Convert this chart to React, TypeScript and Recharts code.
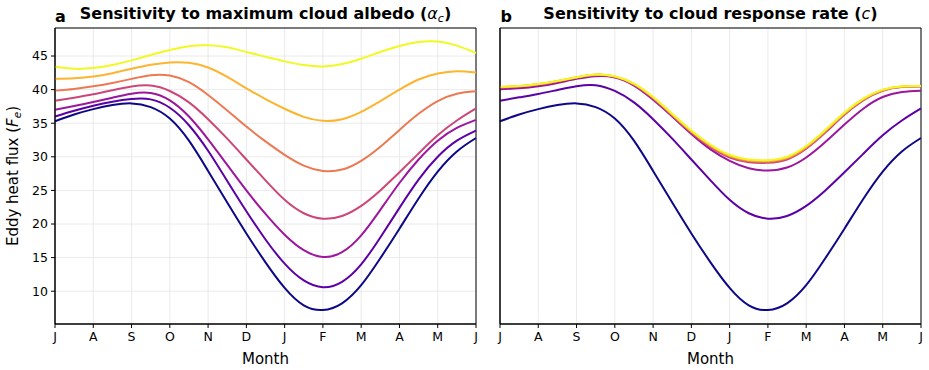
import React from "react";
import { LineChart, Line, XAxis, YAxis, CartesianGrid, ReferenceArea } from "recharts";

// Month positions of the samples (half-month steps, July → June)
const MONTH_POS = [0, 0.5, 1, 1.5, 2, 2.5, 3, 3.5, 4, 4.5, 5, 5.5, 6, 6.5, 7, 7.5, 8, 8.5, 9, 9.5, 10, 10.5, 11];
const MONTH_TICKS = [0, 1, 2, 3, 4, 5, 6, 7, 8, 9, 10, 11];
const MONTH_LABELS = ["J", "A", "S", "O", "N", "D", "J", "F", "M", "A", "M", "J"];
const FLUX_TICKS = [10, 15, 20, 25, 30, 35, 40, 45];
const FLUX_DOMAIN: [number, number] = [5.12, 49.17];

// Panel a: maximum cloud albedo runs (lowest → highest)
const albedo1 = [35.3, 36.3, 37.1, 37.7, 37.95, 37.4, 35.7, 32.4, 27.9, 23.2, 18.6, 14.3, 10.5, 7.9, 7.2, 8.2, 10.9, 14.9, 19.3, 23.8, 27.8, 30.8, 32.8];
const albedo2 = [36.0, 36.85, 37.6, 38.2, 38.6, 38.55, 37.3, 34.7, 30.9, 26.4, 21.9, 17.7, 14.1, 11.6, 10.6, 11.4, 14.0, 18.0, 22.4, 26.6, 30.0, 32.4, 33.9];
const albedo3 = [37.0, 37.55, 38.15, 38.8, 39.4, 39.5, 38.4, 36.0, 32.6, 28.8, 25.0, 21.5, 18.4, 16.1, 15.1, 15.8, 18.3, 22.1, 26.1, 29.6, 32.4, 34.3, 35.5];
const albedo4 = [38.35, 38.8, 39.3, 39.9, 40.45, 40.6, 39.8, 38.1, 35.6, 32.7, 29.6, 26.5, 23.6, 21.6, 20.8, 21.2, 22.7, 25.0, 27.7, 30.5, 33.2, 35.4, 37.2];
const albedo5 = [39.85, 40.1, 40.5, 41.0, 41.6, 42.15, 42.1, 41.1, 39.2, 36.9, 34.5, 32.3, 30.3, 28.7, 27.9, 28.1, 29.4, 31.5, 34.0, 36.4, 38.3, 39.4, 39.75];
const albedo6 = [41.6, 41.7, 41.95, 42.45, 43.1, 43.7, 44.05, 44.0, 43.3, 41.9, 40.2, 38.6, 37.15, 35.95, 35.35, 35.6, 36.7, 38.3, 40.0, 41.5, 42.4, 42.75, 42.55];
const albedo7 = [43.4, 43.1, 43.2, 43.65, 44.35, 45.15, 45.9, 46.45, 46.6, 46.3, 45.6, 44.9, 44.2, 43.65, 43.45, 43.8, 44.6, 45.6, 46.5, 47.1, 47.15, 46.55, 45.45];

// Panel b: cloud response rate runs (slowest → fastest)
const rate1 = [35.3, 36.3, 37.1, 37.7, 37.95, 37.4, 35.7, 32.4, 27.9, 23.2, 18.6, 14.3, 10.5, 7.9, 7.2, 8.2, 10.9, 14.9, 19.3, 23.8, 27.8, 30.8, 32.8];
const rate2 = [38.35, 38.85, 39.35, 39.95, 40.5, 40.65, 39.8, 38.1, 35.6, 32.7, 29.6, 26.5, 23.6, 21.6, 20.8, 21.2, 22.7, 25.0, 27.7, 30.5, 33.2, 35.4, 37.2];
const rate3 = [40.05, 40.2, 40.5, 41.0, 41.6, 42.0, 41.8, 40.6, 38.5, 36.0, 33.4, 31.1, 29.4, 28.3, 27.95, 28.4, 29.9, 32.2, 34.8, 37.2, 38.9, 39.65, 39.85];
const rate4 = [40.3, 40.45, 40.75, 41.2, 41.75, 42.15, 41.88, 40.72, 38.68, 36.12, 33.58, 31.42, 29.9, 29.2, 29.1, 29.6, 31.2, 33.6, 36.25, 38.43, 39.82, 40.38, 40.45];
const rate5 = [40.35, 40.5, 40.8, 41.25, 41.8, 42.2, 41.93, 40.8, 38.78, 36.25, 33.72, 31.58, 30.07, 29.37, 29.27, 29.77, 31.37, 33.78, 36.4, 38.55, 39.9, 40.43, 40.5];
const rate6 = [40.38, 40.53, 40.83, 41.28, 41.83, 42.22, 41.97, 40.86, 38.85, 36.33, 33.82, 31.7, 30.2, 29.5, 29.4, 29.9, 31.5, 33.9, 36.5, 38.62, 39.95, 40.47, 40.53];
const rate7 = [40.4, 40.55, 40.85, 41.3, 41.85, 42.25, 42.0, 40.9, 38.9, 36.4, 33.9, 31.8, 30.3, 29.6, 29.5, 30.0, 31.6, 34.0, 36.6, 38.7, 40.0, 40.5, 40.55];

// plasma colour steps, shared by both panels
const RUN_COLORS = ["#0d0887", "#5c01a6", "#9c179e", "#cc4778", "#ed7953", "#fdb42f", "#f0f921"];

const FONT = "DejaVu Sans";

function buildRows(series: number[][]) {
  return MONTH_POS.map((m, i) => {
    const row: Record<string, number> = { m };
    series.forEach((s, j) => {
      row["s" + j] = s[i];
    });
    return row;
  });
}

const albedoRows = buildRows([albedo1, albedo2, albedo3, albedo4, albedo5, albedo6, albedo7]);
const rateRows = buildRows([rate1, rate2, rate3, rate4, rate5, rate6, rate7]);

const tickStyle = { fontFamily: FONT, fontSize: 12.5, fill: "#000" };

function Panel({
  rows,
  width,
  yAxisWidth,
  right,
  showYLabels,
}: {
  rows: Record<string, number>[];
  width: number;
  yAxisWidth: number;
  right: number;
  showYLabels: boolean;
}) {
  return (
    <LineChart
      width={width}
      height={370}
      data={rows}
      margin={{ top: 28, right, bottom: 0, left: 0 }}
    >
      <CartesianGrid stroke="#e4e4e4" strokeWidth={0.8} />
      <XAxis
        type="number"
        dataKey="m"
        domain={[0, 11]}
        ticks={MONTH_TICKS}
        tickFormatter={(v: number) => MONTH_LABELS[v]}
        interval={0}
        height={46}
        tickSize={4}
        tickMargin={4}
        stroke="#000"
        tick={tickStyle}
        axisLine={{ stroke: "#000", strokeWidth: 1 }}
        tickLine={{ stroke: "#000", strokeWidth: 1 }}
      />
      <YAxis
        type="number"
        domain={FLUX_DOMAIN}
        ticks={FLUX_TICKS}
        interval={0}
        allowDataOverflow
        width={yAxisWidth}
        tickSize={4}
        tickMargin={3}
        tick={showYLabels ? tickStyle : false}
        axisLine={{ stroke: "#000", strokeWidth: 1 }}
        tickLine={{ stroke: "#000", strokeWidth: 1 }}
      />
      <ReferenceArea
        x1={0}
        x2={11}
        y1={FLUX_DOMAIN[0]}
        y2={FLUX_DOMAIN[1]}
        fill="none"
        stroke="#000"
        strokeWidth={1}
        ifOverflow="visible"
      />
      {RUN_COLORS.map((c, j) => (
        <Line
          key={j}
          type="natural"
          dataKey={"s" + j}
          stroke={c}
          strokeWidth={2}
          dot={false}
          activeDot={false}
          isAnimationActive={false}
        />
      ))}
    </LineChart>
  );
}

export default function App() {
  return (
    <div style={{ position: "absolute", left: 0, top: 0, width: 929, height: 370, background: "#fff" }}>
      <div style={{ position: "absolute", left: 0, top: 0 }}>
        <Panel rows={albedoRows} width={480} yAxisWidth={55} right={4} showYLabels />
      </div>
      <div style={{ position: "absolute", left: 480, top: 0 }}>
        <Panel rows={rateRows} width={449} yAxisWidth={20} right={8} showYLabels={false} />
      </div>
      <svg
        width={929}
        height={370}
        style={{ position: "absolute", left: 0, top: 0, pointerEvents: "none" }}
        fontFamily={FONT}
      >
        <text x={55} y={21.7} fontSize={16} fontWeight="bold" fill="#000">a</text>
        <text x={265.5} y={19} fontSize={16} fontWeight="bold" textAnchor="middle" fill="#000">
          Sensitivity to maximum cloud albedo (
          <tspan fontStyle="italic" fontWeight="normal">α</tspan>
          <tspan fontStyle="italic" fontWeight="normal" fontSize={11} dy={3}>c</tspan>
          <tspan dy={-3}>)</tspan>
        </text>
        <text x={500.5} y={21.7} fontSize={16} fontWeight="bold" fill="#000">b</text>
        <text x={710.5} y={19} fontSize={16} fontWeight="bold" textAnchor="middle" fill="#000">
          Sensitivity to cloud response rate (
          <tspan fontStyle="italic" fontWeight="normal">c</tspan>)
        </text>
        <text x={265.5} y={364} fontSize={15} textAnchor="middle" fill="#000">Month</text>
        <text x={710.5} y={364} fontSize={15} textAnchor="middle" fill="#000">Month</text>
        <text x={18} y={176} fontSize={15} textAnchor="middle" fill="#000" transform="rotate(-90 18 176)">
          Eddy heat flux (
          <tspan fontStyle="italic">F</tspan>
          <tspan fontStyle="italic" fontSize={10.5} dy={3}>e</tspan>
          <tspan dy={-3}>)</tspan>
        </text>
      </svg>
    </div>
  );
}
